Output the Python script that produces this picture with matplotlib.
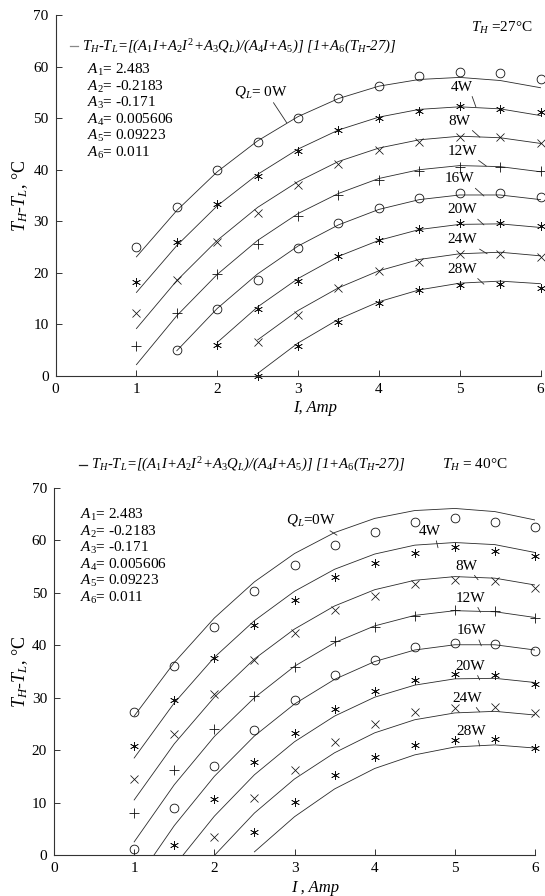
import numpy as np
import matplotlib
matplotlib.use("Agg")
import matplotlib.pyplot as plt
from matplotlib.lines import Line2D

plt.rcParams['font.family'] = ['Liberation Serif', 'DejaVu Serif']
plt.rcParams['mathtext.fontset'] = 'custom'
plt.rcParams['mathtext.rm'] = 'Liberation Serif'
plt.rcParams['mathtext.it'] = 'Liberation Serif:italic'
plt.rcParams['mathtext.bf'] = 'Liberation Serif:bold'

nan = np.nan

# ---------------- data ----------------
current_A = [1, 1.5, 2, 2.5, 3, 3.5, 4, 4.5, 5, 5.5, 6]
q_loads = [0, 4, 8, 12, 16, 20, 24, 28]
q_labels = ['0W', '4W', '8W', '12W', '16W', '20W', '24W', '28W']
marker_kinds = ['o', 'ast', 'x', '+', 'o', 'ast', 'x', 'ast']
x_ticks = [0, 1, 2, 3, 4, 5, 6]
y_ticks = [0, 10, 20, 30, 40, 50, 60, 70]
coef_names = ['A_{\\mathit{1}}', 'A_{\\mathit{2}}', 'A_{\\mathit{3}}',
              'A_{\\mathit{4}}', 'A_{\\mathit{5}}', 'A_{\\mathit{6}}']
coef_values = ['2.483', '-0.2183', '-0.171', '0.005606', '0.09223', '0.011']

# T_H = 27 C : measured points
meas27_q0 = [25.0, 32.7, 39.9, 45.4, 50.0, 54.0, 56.3, 58.1, 59.0, 58.8, 57.6]
meas27_q4 = [18.3, 26.0, 33.3, 38.8, 43.7, 47.7, 50.0, 51.4, 52.4, 51.8, 51.1]
meas27_q8 = [12.2, 18.7, 26.0, 31.7, 37.0, 41.1, 43.8, 45.4, 46.3, 46.3, 45.2]
meas27_q12 = [5.8, 12.2, 19.7, 25.6, 31.0, 35.1, 38.0, 39.8, 40.6, 40.6, 39.8]
meas27_q16 = [nan, 5.0, 12.9, 18.6, 24.8, 29.6, 32.5, 34.5, 35.4, 35.4, 34.8]
meas27_q20 = [nan, nan, 6.0, 12.9, 18.4, 23.3, 26.4, 28.6, 29.6, 29.7, 29.0]
meas27_q24 = [nan, nan, nan, 6.5, 11.8, 17.0, 20.4, 22.2, 23.7, 23.7, 23.0]
meas27_q28 = [nan, nan, nan, 0.0, 5.8, 10.5, 14.1, 16.7, 17.6, 17.8, 17.0]

# T_H = 27 C : correlation curves
fit27_q0 = [23.1, 32.1, 39.6, 45.6, 50.3, 53.8, 56.2, 57.5, 57.9, 57.3, 55.9]
fit27_q4 = [16.2, 25.3, 33.0, 39.1, 44.0, 47.7, 50.2, 51.7, 52.2, 51.8, 50.5]
fit27_q8 = [9.2, 18.5, 26.3, 32.7, 37.7, 41.6, 44.2, 45.8, 46.5, 46.2, 45.1]
fit27_q12 = [2.2, 11.7, 19.7, 26.3, 31.5, 35.4, 38.3, 40.0, 40.8, 40.6, 39.6]
fit27_q16 = [nan, 4.9, 13.1, 19.8, 25.2, 29.3, 32.3, 34.2, 35.1, 35.1, 34.2]
fit27_q20 = [nan, nan, 6.5, 13.4, 18.9, 23.2, 26.3, 28.4, 29.4, 29.5, 28.8]
fit27_q24 = [nan, nan, nan, 7.0, 12.7, 17.1, 20.4, 22.6, 23.7, 24.0, 23.3]
fit27_q28 = [nan, nan, nan, 0.5, 6.4, 11.0, 14.4, 16.7, 18.0, 18.4, 17.9]

# T_H = 40 C : measured points
meas40_q0 = [27.2, 36.0, 43.4, 50.4, 55.3, 59.1, 61.7, 63.6, 64.2, 63.6, 62.6]
meas40_q4 = [20.8, 29.6, 37.5, 43.9, 48.6, 53.0, 55.6, 57.6, 58.7, 58.0, 57.0]
meas40_q8 = [14.5, 23.0, 30.7, 37.2, 42.3, 46.7, 49.4, 51.7, 52.4, 52.3, 51.0]
meas40_q12 = [8.0, 16.2, 24.0, 30.4, 35.9, 40.9, 43.5, 45.6, 46.8, 46.6, 45.2]
meas40_q16 = [1.1, 8.9, 17.0, 23.8, 29.6, 34.3, 37.1, 39.6, 40.5, 40.2, 39.0]
meas40_q20 = [nan, 2.0, 10.7, 17.7, 23.2, 27.8, 31.3, 33.4, 34.5, 34.3, 32.7]
meas40_q24 = [nan, nan, 3.5, 10.9, 16.3, 21.5, 25.0, 27.2, 28.1, 28.2, 27.0]
meas40_q28 = [nan, nan, nan, 4.3, 10.2, 15.2, 18.7, 21.0, 21.9, 22.1, 20.4]

# T_H = 40 C : correlation curves (run below the axis floor where they start)
fit40_q0 = [26.5, 36.7, 45.2, 52.1, 57.5, 61.5, 64.2, 65.7, 66.1, 65.5, 63.9]
fit40_q4 = [18.5, 29.0, 37.7, 44.7, 50.3, 54.5, 57.4, 59.1, 59.6, 59.2, 57.7]
fit40_q8 = [10.5, 21.2, 30.1, 37.4, 43.1, 47.5, 50.6, 52.4, 53.1, 52.8, 51.5]
fit40_q12 = [2.5, 13.4, 22.6, 30.0, 36.0, 40.5, 43.7, 45.7, 46.6, 46.4, 45.3]
fit40_q16 = [-5.5, 5.6, 15.0, 22.7, 28.8, 33.5, 36.9, 39.1, 40.1, 40.1, 39.1]
fit40_q20 = [nan, -2.1, 7.4, 15.3, 21.6, 26.5, 30.1, 32.4, 33.6, 33.7, 32.9]
fit40_q24 = [nan, nan, -0.1, 8.0, 14.5, 19.5, 23.3, 25.8, 27.1, 27.4, 26.7]
fit40_q28 = [nan, nan, nan, 0.6, 7.3, 12.6, 16.5, 19.1, 20.6, 21.0, 20.4]

meas27 = [meas27_q0, meas27_q4, meas27_q8, meas27_q12, meas27_q16, meas27_q20, meas27_q24, meas27_q28]
fit27 = [fit27_q0, fit27_q4, fit27_q8, fit27_q12, fit27_q16, fit27_q20, fit27_q24, fit27_q28]
meas40 = [meas40_q0, meas40_q4, meas40_q8, meas40_q12, meas40_q16, meas40_q20, meas40_q24, meas40_q28]
fit40 = [fit40_q0, fit40_q4, fit40_q8, fit40_q12, fit40_q16, fit40_q20, fit40_q24, fit40_q28]

# ---------------- layout ----------------
W, H = 545, 896
fig = plt.figure(figsize=(W / 100, H / 100), dpi=100)


def fx(px):
    return px / W


def fy(py):
    return 1 - py / H


LINE_C = '#2a2a2a'
FS = 11

marker_map = {'o': dict(marker='o', ms=6.3, mfc='none', mew=0.6),
              'x': dict(marker='x', ms=6.3, mew=0.55),
              '+': dict(marker='+', ms=7.0, mew=0.6),
              'ast': dict(marker=(6, 2, 0), ms=6.3, mew=0.5)}


def make_panel(rect, meas, fits, label_pos, qlabel, th_text, th_xy, formula_y, dash_x, coef_x, coef_y0):
    ax = fig.add_axes(rect)
    ax.set_xlim(0, 6)
    ax.set_ylim(0, 70)
    for s in ['top', 'right']:
        ax.spines[s].set_visible(False)
    for s in ['left', 'bottom']:
        ax.spines[s].set_linewidth(0.8)
        ax.spines[s].set_color('#333333')
    ax.set_xticks(x_ticks)
    ax.set_yticks(y_ticks)
    ax.tick_params(direction='in', length=4, width=0.7, labelsize=FS, pad=5, color='#333333')
    for k in range(len(q_loads)):
        ax.plot(current_A, fits[k], color=LINE_C, lw=0.6)
        ax.plot(current_A, meas[k], ls='none', color='#111111',
                clip_on=False, **marker_map[marker_kinds[k]])
    for k, (txt_xy, end_xy, rel) in enumerate(label_pos):
        txt = qlabel if k == 0 else q_labels[k]
        ax.annotate(txt, xy=end_xy, xytext=txt_xy, textcoords='data', xycoords='data',
                    ha='center', va='center', fontsize=FS,
                    arrowprops=dict(arrowstyle='-', lw=0.6, color=LINE_C,
                                    shrinkA=0, shrinkB=0, relpos=rel))
    # header formula
    fig.add_artist(Line2D([fx(dash_x[0]), fx(dash_x[1])], [fy(formula_y), fy(formula_y)],
                          color=dash_x[2], lw=0.9))
    formula = (r"$T_H$-$T_L$=[($A_{\mathit{1}}I$+$A_{\mathit{2}}I^{\mathit{2}}$+$A_{\mathit{3}}Q_L$)/"
               r"($A_{\mathit{4}}I$+$A_{\mathit{5}}$)] [1+$A_{\mathit{6}}$($T_H$-27)]")
    fig.text(fx(dash_x[1] + 4), fy(formula_y), formula, fontsize=FS - 0.4, style='italic',
             ha='left', va='center')
    fig.text(fx(th_xy[0]), fy(th_xy[1]), th_text, fontsize=FS, ha='left', va='center')
    for i, (n, v) in enumerate(zip(coef_names, coef_values)):
        fig.text(fx(coef_x), fy(coef_y0 + i * 16.6), '$' + n + '$= ' + v, fontsize=FS,
                 ha='left', va='center')
    return ax


# top panel (T_H = 27 C)
top_labels = [((2.54, 55.1), (2.86, 49.1), (0.7, 0.0)),
              ((5.03, 56.0), (5.20, 52.2), (0.9, 0.05)),
              ((5.00, 49.4), (5.25, 46.3), (0.9, 0.05)),
              ((5.03, 43.6), (5.33, 40.7), (0.9, 0.05)),
              ((5.00, 38.2), (5.30, 34.9), (0.9, 0.05)),
              ((5.03, 32.2), (5.30, 29.3), (0.9, 0.05)),
              ((5.03, 26.4), (5.34, 23.7), (0.9, 0.05)),
              ((5.03, 20.7), (5.30, 17.8), (0.9, 0.05))]
ax1 = make_panel([fx(55.6), fy(376), fx(540.5 - 55.6), (376 - 15) / H],
                 meas27, fit27, top_labels, '$Q_L$= 0W', '$T_H$ =27°C', (471, 28), 46.5,
                 (70, 78, '#888888'), 87, 70)
ax1.set_xlabel('I, Amp', fontsize=FS + 1, style='italic')
ax1.xaxis.set_label_coords(0.536, -0.067)
ax1.set_ylabel('$T_H$-$T_L$, °C', fontsize=FS + 2)
ax1.yaxis.set_label_coords(-0.052, 0.5)

# bottom panel (T_H = 40 C)
bot_labels = [((3.20, 63.9), (3.53, 61.0), (0.8, 0.0)),
              ((4.69, 61.7), (4.79, 58.6), (0.75, 0.05)),
              ((5.14, 55.1), (5.29, 52.5), (0.75, 0.05)),
              ((5.19, 49.0), (5.32, 46.3), (0.7, 0.05)),
              ((5.21, 42.8), (5.33, 39.9), (0.7, 0.05)),
              ((5.19, 36.0), (5.31, 33.4), (0.7, 0.05)),
              ((5.16, 29.9), (5.31, 27.3), (0.7, 0.05)),
              ((5.21, 23.6), (5.31, 20.8), (0.7, 0.05))]
ax2 = make_panel([fx(54), fy(855), fx(535 - 54), (855 - 488) / H],
                 meas40, fit40, bot_labels, '$Q_L$=0W', '$T_H$ = 40°C', (442, 465), 465,
                 (79, 87, '#222222'), 80, 515)
ax2.set_xlabel('I , Amp', fontsize=FS + 1, style='italic')
ax2.xaxis.set_label_coords(0.543, -0.069)
ax2.set_ylabel('$T_H$-$T_L$, °C', fontsize=FS + 2)
ax2.yaxis.set_label_coords(-0.05, 0.5)

fig.savefig('out.png', dpi=100, facecolor='white')
